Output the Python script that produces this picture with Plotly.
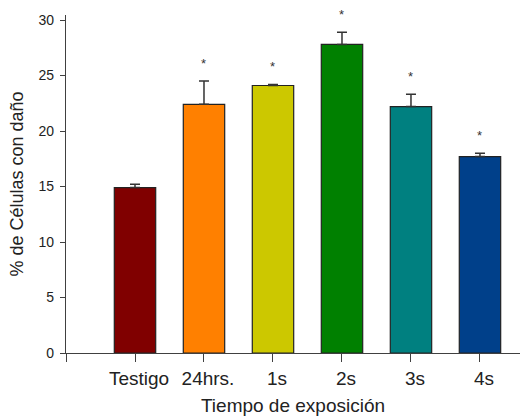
import plotly.graph_objects as go

categories = ["Testigo", "24hrs.", "1s", "2s", "3s", "4s"]
values = [14.9, 22.4, 24.1, 27.8, 22.2, 17.7]
errors = [0.3, 2.1, 0.1, 1.1, 1.1, 0.3]
significance = ["", "*", "*", "*", "*", "*"]
colors = ["#800000", "#FF8000", "#CCC800", "#008000", "#008080", "#00408A"]

xpos = list(range(1, len(categories) + 1))

fig = go.Figure()
fig.add_trace(go.Bar(
    x=xpos, y=values, width=0.6,
    marker=dict(color=colors, line=dict(color="#222222", width=1.2)),
    error_y=dict(type="data", array=errors, arrayminus=[0] * len(errors),
                 symmetric=False, color="#333333", thickness=1.5, width=5),
    showlegend=False, hoverinfo="skip",
))

for x, v, e, s in zip(xpos, values, errors, significance):
    if s:
        fig.add_annotation(x=x, y=v + e, text=s, showarrow=False, yshift=18,
                           font=dict(size=13, color="#333333", family="Liberation Sans, Arial"))

fig.update_layout(
    width=522, height=420,
    margin=dict(l=66, r=2, t=15, b=67),
    plot_bgcolor="white", paper_bgcolor="white",
    font=dict(family="Liberation Sans, Arial", color="#222222"),
    bargap=0.4,
)
fig.update_xaxes(
    range=[0, 6.58], tickmode="array", tickvals=[0] + xpos, ticktext=[""] + categories,
    showline=True, linecolor="#404040", linewidth=1.2,
    ticks="outside", ticklen=8, tickcolor="#404040", ticklabelshift=4,
    tickfont=dict(size=19), showgrid=False, zeroline=False, automargin=False,
    title=dict(text="Tiempo de exposición", font=dict(size=19), standoff=10),
)
fig.update_yaxes(
    range=[0, 30.45], tickmode="array", tickvals=[0, 5, 10, 15, 20, 25, 30],
    showline=True, linecolor="#404040", linewidth=1.2,
    ticks="outside", ticklen=5, tickcolor="#404040", ticklabelstandoff=3,
    tickfont=dict(size=14), showgrid=False, zeroline=False, automargin=False,
    title=dict(text="% de Células con daño", font=dict(size=18), standoff=10),
)

fig.write_html("out.html", config={"displayModeBar": False},
               post_script="document.body.style.margin='0';")
